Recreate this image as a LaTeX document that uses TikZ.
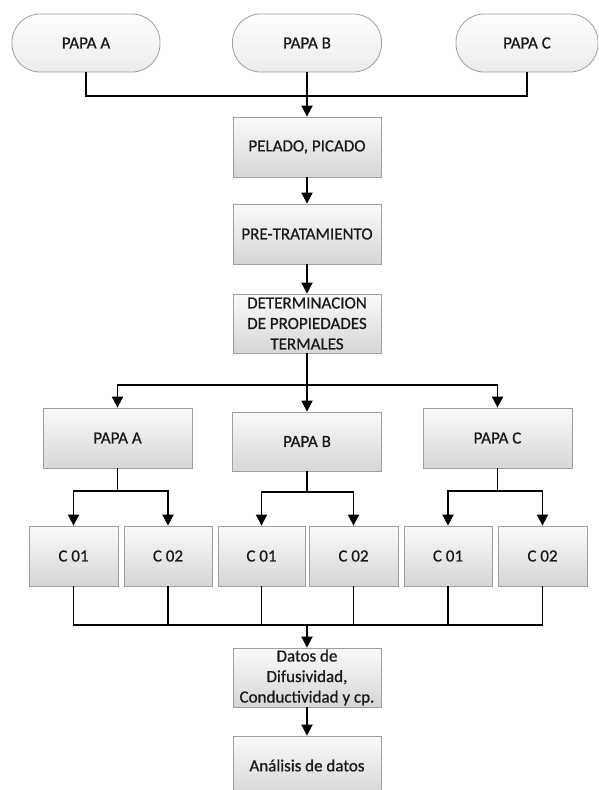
\documentclass[tikz,border=0pt]{standalone}
\usepackage{fontspec}
\setmainfont{Carlito}[FakeBold=0.7]
\usetikzlibrary{arrows.meta}
\begin{document}
\begin{tikzpicture}[x=1pt,y=-1pt,
  every node/.style={font=\fontsize{17}{20.5}\selectfont, text=black!90, align=center, inner sep=0pt},
  box/.style={draw=gray!75, line width=0.8pt, top color=gray!4, bottom color=gray!32, minimum height=60pt},
  oval/.style={draw=gray!75, line width=0.8pt, rounded corners=28pt, top color=white, bottom color=gray!16, minimum height=58pt},
  conn/.style={line width=1.8pt, black},
  arr/.style={conn, -{Triangle[length=11pt,width=11pt]}}
]
\useasboundingbox (0,0) rectangle (598,790);
\clip (0,0) rectangle (598,790);
% top ovals
\node[oval, minimum width=148pt] (oA) at (86,43) {PAPA A};
\node[oval, minimum width=149pt] (oB) at (307,43) {PAPA B};
\node[oval, minimum width=142pt] (oC) at (527,43) {PAPA C};
% main column
\node[box, minimum width=148pt] (pel) at (307,147) {PELADO, PICADO};
\node[box, minimum width=148pt] (pre) at (307,234) {PRE-TRATAMIENTO};
\node[box, minimum width=148pt, minimum height=59pt] (det) at (307,323.5) {DETERMINACION\\DE PROPIEDADES\\TERMALES};
% second level
\node[box, minimum width=149pt] (pA) at (117.5,438) {PAPA A};
\node[box, minimum width=149pt, minimum height=59pt] (pB) at (307,441.5) {PAPA B};
\node[box, minimum width=149pt] (pC) at (497.5,438) {PAPA C};
% C boxes
\node[box, minimum width=89pt] (cA1) at (73.5,556) {C 01};
\node[box, minimum width=88pt] (cA2) at (168,556) {C 02};
\node[box, minimum width=87pt] (cB1) at (261.5,556) {C 01};
\node[box, minimum width=89pt] (cB2) at (353.5,556) {C 02};
\node[box, minimum width=88pt] (cC1) at (448,556) {C 01};
\node[box, minimum width=89pt] (cC2) at (542.5,556) {C 02};
% bottom
\node[box, minimum width=148pt, minimum height=59pt] (dat) at (307,677.5) {Datos de\\Difusividad,\\Conductividad y cp.};
\node[box, minimum width=148pt, minimum height=59pt] (ana) at (307,765.5) {Análisis de datos};
% connectors top
\coordinate (j1) at (307,96);
\draw[conn] (oA.south) |- (j1) -| (oC.south);
\draw[arr] (oB.south) -- (pel.north);
\draw[arr] (pel.south) -- (pre.north);
\draw[arr] (pre.south) -- (det.north);
% hub
\coordinate (h) at (307,385);
\draw[conn] (det.south) -- (h);
\draw[arr] (h) -| (pA.north);
\draw[arr] (h) -| (pC.north);
\draw[arr] (h) -- (pB.north);
% sub-branches
\coordinate (sA) at (117.5,491);
\coordinate (sB) at (307,492);
\coordinate (sC) at (497.5,491);
\draw[conn] (pA.south) -- (sA);
\draw[arr] (sA) -| (cA1.north);
\draw[arr] (sA) -| (cA2.north);
\draw[conn] (pB.south) -- (sB);
\draw[arr] (sB) -| (cB1.north);
\draw[arr] (sB) -| (cB2.north);
\draw[conn] (pC.south) -- (sC);
\draw[arr] (sC) -| (cC1.north);
\draw[arr] (sC) -| (cC2.north);
% merge
\coordinate (b) at (307,625);
\draw[conn] (cA1.south) |- (b) -| (cC2.south);
\draw[conn] (cA2.south) -- (cA2.south |- b);
\draw[conn] (cB1.south) -- (cB1.south |- b);
\draw[conn] (cB2.south) -- (cB2.south |- b);
\draw[conn] (cC1.south) -- (cC1.south |- b);
\draw[arr] (b) -- (dat.north);
\draw[arr] (dat.south) -- (ana.north);
\end{tikzpicture}
\end{document}
